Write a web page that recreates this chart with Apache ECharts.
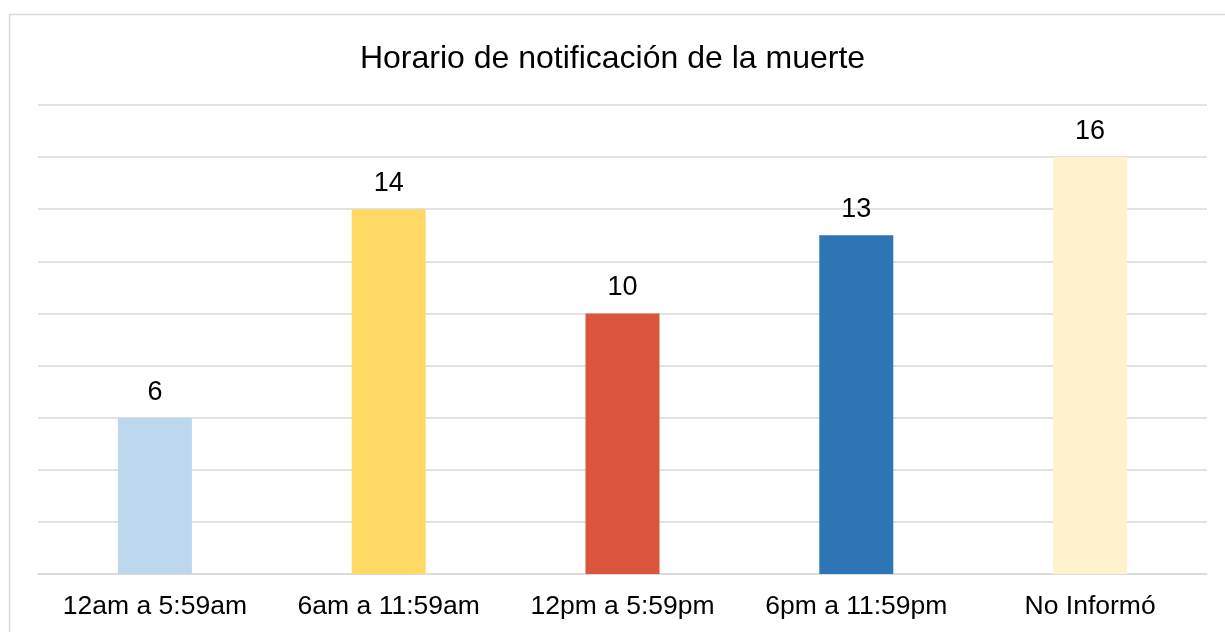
<!DOCTYPE html>
<html>
<head>
<meta charset="utf-8">
<script src="https://cdn.jsdelivr.net/npm/echarts@6/dist/echarts.min.js"></script>
<style>
  html, body { margin: 0; padding: 0; background: #fff; }
  #chart { width: 1225px; height: 632px; }
</style>
</head>
<body>
<div id="chart"></div>
<script>
var categories = ['12am a 5:59am', '6am a 11:59am', '12pm a 5:59pm', '6pm a 11:59pm', 'No Informó'];
var values = [6, 14, 10, 13, 16];
var colors = ['#BDD7EE', '#FFD966', '#DA553B', '#2E75B6', '#FFF2CC'];

var myChart = echarts.init(document.getElementById('chart'));
myChart.setOption({
    animation: false,
    textStyle: { fontFamily: 'Liberation Sans, Arial, sans-serif' },
    graphic: [{
        type: 'rect',
        shape: { x: 9.5, y: 14.5, width: 1240, height: 640 },
        style: { fill: 'none', stroke: '#d9d9d9', lineWidth: 1.5 },
        z: -1
    }],
    title: {
        text: 'Horario de notificación de la muerte',
        left: 'center',
        top: 38,
        textStyle: { fontSize: 32, fontWeight: 'normal', color: '#000' }
    },
    grid: { left: 38, right: 18, top: 105, bottom: 58 },
    xAxis: {
        type: 'category',
        data: categories,
        axisLine: { lineStyle: { color: '#d9d9d9', width: 1.5 } },
        axisTick: { show: false },
        axisLabel: { color: '#000', fontSize: 26.5, margin: 19, interval: 0 }
    },
    yAxis: {
        type: 'value',
        min: 0,
        max: 18,
        interval: 2,
        axisLabel: { show: false },
        axisLine: { show: false },
        axisTick: { show: false },
        splitLine: { lineStyle: { color: '#d9d9d9', width: 1.5 } }
    },
    series: [{
        type: 'bar',
        barWidth: 74,
        data: values.map(function (v, i) {
            return { value: v, itemStyle: { color: colors[i] } };
        }),
        label: {
            show: true,
            position: 'top',
            distance: 12,
            color: '#000',
            fontSize: 27
        }
    }]
});
</script>
</body>
</html>
